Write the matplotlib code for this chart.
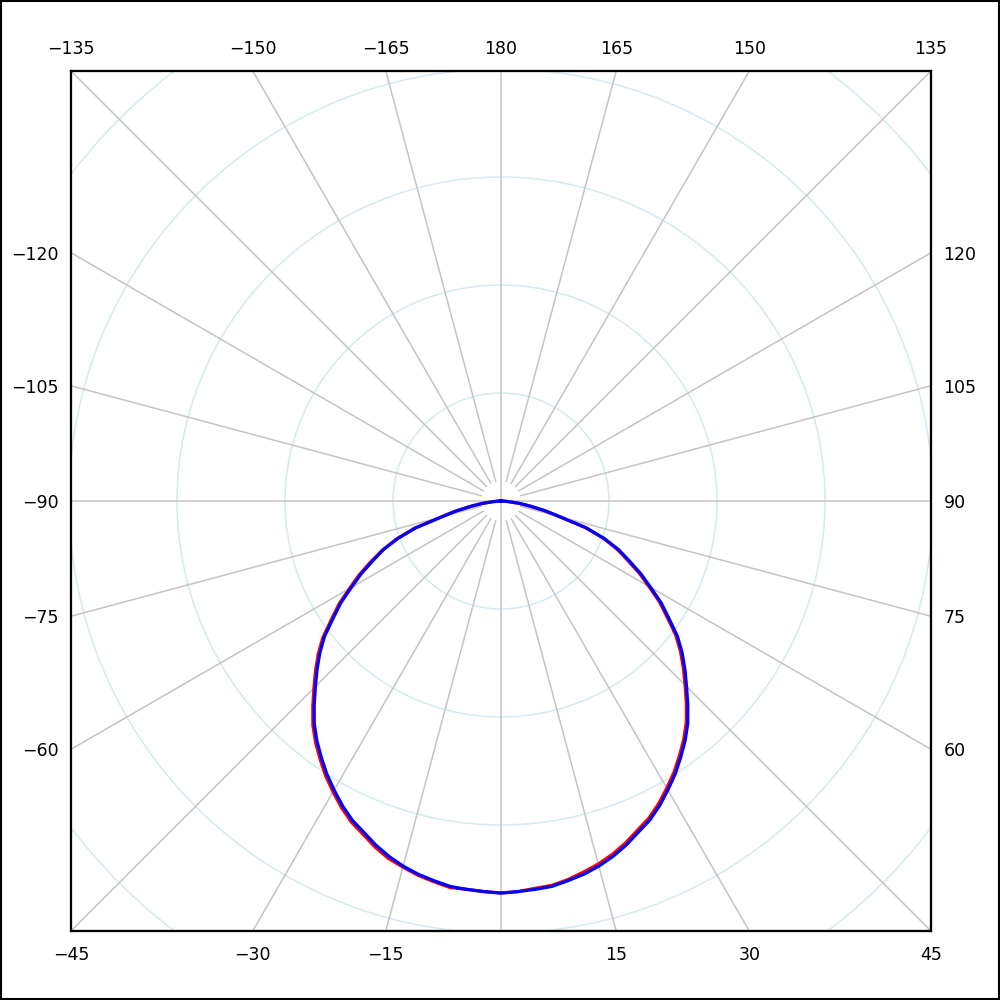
import numpy as np
import matplotlib
matplotlib.use("Agg")
import matplotlib.pyplot as plt
from matplotlib.patches import Circle, Rectangle

# gamma angles (deg from nadir) and intensity
gamma = [0, 2.5, 5, 7.5, 10, 12.5, 15, 17.5, 20, 22.5, 25, 27.5, 30, 32.5, 35, 37.5,
         40, 42.5, 45, 47.5, 50, 52.5, 55, 57.5, 60, 62.5, 65, 67.5, 70, 72.5, 75,
         77.5, 80, 82.5, 85, 87.5, 90]
blue_r = [363, 362, 361, 360, 357, 354, 350, 345, 339, 332, 326, 318, 309, 300, 290, 280,
          269, 256, 243, 231, 219, 206, 190, 176, 160, 146, 131, 118, 102, 83, 57,
          42, 28, 18, 8, 3, 0]
red_left = [363, 362, 361, 361, 358, 355, 351, 347, 341, 334, 328, 320, 311, 302, 292, 282,
            271, 258, 245, 233, 221, 208, 192, 178, 162, 148, 133, 119, 103, 84, 58,
            43, 29, 18, 8, 3, 0]
red_right = [363, 362, 360, 359, 356, 352, 348, 343, 337, 330, 324, 316, 307, 298, 288, 278,
             267, 254, 241, 229, 217, 204, 188, 174, 158, 144, 129, 116, 101, 82, 56,
             41, 27, 17, 7, 3, 0]

rings = [100, 200, 300, 400, 500]
spokes = list(range(0, 360, 15))

bottom_ang = [-45, -30, -15, 15, 30, 45]
top_ang = [-135, -150, -165, 180, 165, 150, 135]
left_ang = [-60, -75, -90, -105, -120]
right_ang = [60, 75, 90, 105, 120]

R = 430 / 1.08  # half-width of the square in data units


def lab(a):
    return str(a).replace("-", "\u2212")


fig = plt.figure(figsize=(10, 10), dpi=100)
ax = fig.add_axes([0.071, 0.069, 0.86, 0.86])
ax.set_xlim(-R, R)
ax.set_ylim(-R, R)
ax.set_aspect("equal")

for rr in rings:
    ax.add_patch(Circle((0, 0), rr, fill=False, ec="#d4e9f0", lw=1.1, zorder=1))

for a in spokes:
    t = np.radians(a)
    r0 = 0 if a % 90 == 0 else 19
    ax.plot([r0 * np.sin(t), 800 * np.sin(t)], [-r0 * np.cos(t), -800 * np.cos(t)],
            color="#c4c4c4", lw=1.1, zorder=2)


def curve(left, right):
    g = np.radians(np.array(gamma))
    xl = -np.array(left) * np.sin(g)
    yl = -np.array(left) * np.cos(g)
    xr = np.array(right) * np.sin(g)
    yr = -np.array(right) * np.cos(g)
    x = np.concatenate([xl[::-1], xr[1:]])
    y = np.concatenate([yl[::-1], yr[1:]])
    return x, y


x, y = curve(red_left, red_right)
ax.plot(x, y, color="red", lw=2.3, zorder=3)
x, y = curve(blue_r, blue_r)
ax.plot(x, y, color="blue", lw=2.3, zorder=4)

fs = 12.5
ax.set_xticks([R * np.tan(np.radians(a)) for a in bottom_ang])
ax.set_xticklabels([lab(a) for a in bottom_ang])
ax.set_yticks([-R / np.tan(np.radians(-a)) for a in left_ang])
ax.set_yticklabels([lab(a) for a in left_ang])
ax.tick_params(axis="x", length=0, pad=11, labelsize=fs)
ax.tick_params(axis="y", length=0, pad=9, labelsize=fs)

axt = ax.twiny()
axt.set_xlim(-R, R)
axt.set_xticks([np.sign(a) * R * np.tan(np.radians(180 - abs(a))) for a in top_ang])
axt.set_xticklabels([lab(a) for a in top_ang])
axt.tick_params(axis="x", length=0, pad=9, labelsize=fs)

axr = ax.twinx()
axr.set_ylim(-R, R)
axr.set_yticks([-R / np.tan(np.radians(a)) for a in right_ang])
axr.set_yticklabels([lab(a) for a in right_ang])
axr.tick_params(axis="y", length=0, pad=9, labelsize=fs)

for a_ in (ax, axt, axr):
    for s in a_.spines.values():
        s.set_linewidth(1.5)
        s.set_color("black")

fig.patches.append(Rectangle((0.001, 0.001), 0.998, 0.998, transform=fig.transFigure,
                             fill=False, ec="black", lw=1.5))

fig.savefig("out.png", dpi=100)
